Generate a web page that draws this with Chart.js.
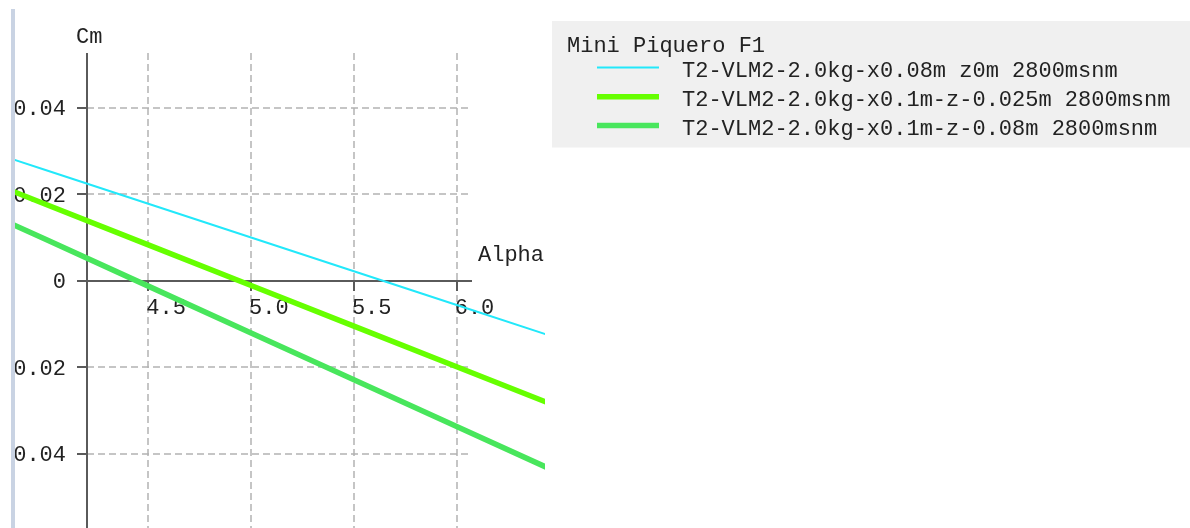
<!DOCTYPE html>
<html>
<head>
<meta charset="utf-8">
<script src="https://cdn.jsdelivr.net/npm/chart.js@4.4.0/dist/chart.umd.min.js"></script>
<style>
  html, body { margin: 0; padding: 0; background: #ffffff; }
  #wrap { position: relative; width: 1190px; height: 528px; }
  canvas { display: block; }
</style>
</head>
<body>
<div id="wrap"><canvas id="c" width="1190" height="528"></canvas></div>
<script>
// Cm vs Alpha polars, Mini Piquero F1
const alpha = [3.5, 4.0, 4.5, 5.0, 5.5, 6.0, 6.5];
const cmX008Z0 = [0.03340, 0.02561, 0.01781, 0.01001, 0.00222, -0.00558, -0.01338];
const cmX01Zm0025 = [0.02709, 0.01770, 0.00831, -0.00107, -0.01046, -0.01985, -0.02923];
const cmX01Zm008 = [0.02040, 0.00959, -0.00122, -0.01203, -0.02283, -0.03364, -0.04444];

const seriesLabels = [
  'T2-VLM2-2.0kg-x0.08m z0m 2800msnm',
  'T2-VLM2-2.0kg-x0.1m-z-0.025m 2800msnm',
  'T2-VLM2-2.0kg-x0.1m-z-0.08m 2800msnm'
];
const legendTitle = 'Mini Piquero F1';

const xTicks = [4.5, 5.0, 5.5, 6.0];
const xTickLabels = ['4.5', '5.0', '5.5', '6.0'];
const yTicks = [0.04, 0.02, 0, -0.02, -0.04];
const yTickLabels = ['0.04', '0.02', '0', '-0.02', '-0.04'];
const xTitle = 'Alpha';
const yTitle = 'Cm';

// axis extents of the graph frame
const X_AXIS_ORIGIN = 4.2;
const X_AXIS_END = 6.073;

const FONT = '22px "Liberation Mono", "Courier New", monospace';
const TEXT_COLOR = '#222222';

function pts(xs, ys) { return xs.map((v, i) => ({ x: v, y: ys[i] })); }

function seg(ctx, x1, y1, x2, y2) {
  ctx.beginPath(); ctx.moveTo(x1, y1); ctx.lineTo(x2, y2); ctx.stroke();
}

const crossAxes = {
  id: 'crossAxes',
  beforeDatasetsDraw(chart) {
    const { ctx, chartArea, scales: { x, y } } = chart;
    ctx.save();
    ctx.beginPath();
    ctx.rect(chartArea.left, 0, chart.width - chartArea.left, chart.height);
    ctx.clip();

    const ox = Math.round(x.getPixelForValue(X_AXIS_ORIGIN));
    const oy = Math.round(y.getPixelForValue(0));
    const ex = Math.round(x.getPixelForValue(X_AXIS_END));

    // dashed grid
    ctx.strokeStyle = '#b2b2b2';
    ctx.lineWidth = 1.5;
    ctx.setLineDash([7, 4]);
    xTicks.forEach(v => {
      const px = Math.round(x.getPixelForValue(v));
      seg(ctx, px, chartArea.top, px, chartArea.bottom);
    });
    yTicks.forEach(v => {
      if (v === 0) return;
      const py = Math.round(y.getPixelForValue(v));
      seg(ctx, ox, py, ex, py);
    });
    ctx.setLineDash([]);

    // axes and tick marks
    ctx.strokeStyle = '#5a5a5a';
    ctx.lineWidth = 2;
    seg(ctx, ox, chartArea.top, ox, chartArea.bottom);
    seg(ctx, ox, oy, ex, oy);
    yTicks.forEach(v => {
      const py = Math.round(y.getPixelForValue(v));
      seg(ctx, ox - 10, py, ox, py);
    });
    xTicks.forEach(v => {
      const px = Math.round(x.getPixelForValue(v));
      seg(ctx, px, oy, px, oy + 10);
    });

    // labels
    ctx.font = FONT;
    ctx.fillStyle = TEXT_COLOR;
    ctx.textBaseline = 'middle';
    ctx.textAlign = 'right';
    yTicks.forEach((v, i) => {
      const py = y.getPixelForValue(v);
      ctx.fillText(yTickLabels[i], ox - 21, py + 1.5);
    });
    ctx.textAlign = 'left';
    xTicks.forEach((v, i) => {
      const px = x.getPixelForValue(v);
      ctx.fillText(xTickLabels[i], px - 2, oy + 27);
    });
    ctx.fillText(yTitle, ox - 11, chartArea.top - 16);
    ctx.fillText(xTitle, ex + 6, oy - 26);
    ctx.restore();
  },
  afterDraw(chart) {
    const { ctx } = chart;
    ctx.save();
    // window frame edge on the left
    ctx.fillStyle = '#c9d3e3';
    ctx.fillRect(11, 9, 4, chart.height - 9);

    // legend box
    ctx.fillStyle = '#f0f0f0';
    ctx.fillRect(552, 21, chart.width - 552, 126.5);
    ctx.font = FONT;
    ctx.fillStyle = TEXT_COLOR;
    ctx.textAlign = 'left';
    ctx.textBaseline = 'alphabetic';
    ctx.fillText(legendTitle, 567, 51.5);
    const rowY = [67.5, 96.8, 125.5];
    chart.data.datasets.forEach((ds, i) => {
      ctx.strokeStyle = ds.borderColor;
      ctx.lineWidth = ds.borderWidth;
      seg(ctx, 597, rowY[i], 659, rowY[i]);
      ctx.fillStyle = TEXT_COLOR;
      ctx.fillText(ds.label, 682, rowY[i] + 9);
    });
    ctx.restore();
  }
};

new Chart(document.getElementById('c'), {
  type: 'scatter',
  data: {
    datasets: [
      { label: seriesLabels[0], data: pts(alpha, cmX008Z0), borderColor: '#22e8fa', borderWidth: 2 },
      { label: seriesLabels[1], data: pts(alpha, cmX01Zm0025), borderColor: '#66ff00', borderWidth: 5.5 },
      { label: seriesLabels[2], data: pts(alpha, cmX01Zm008), borderColor: '#48e65c', borderWidth: 5.5 }
    ].map(d => Object.assign(d, { showLine: true, pointRadius: 0, fill: false, tension: 0, clip: 0 }))
  },
  options: {
    responsive: false,
    animation: false,
    devicePixelRatio: 1,
    events: [],
    layout: { padding: { left: 15, right: 645, top: 53, bottom: 0 } },
    scales: {
      x: { type: 'linear', display: false, min: 3.8517, max: 6.4295 },
      y: { type: 'linear', display: false, min: -0.05709, max: 0.05263 }
    },
    plugins: { legend: { display: false }, tooltip: { enabled: false } }
  },
  plugins: [crossAxes]
});
</script>
</body>
</html>
